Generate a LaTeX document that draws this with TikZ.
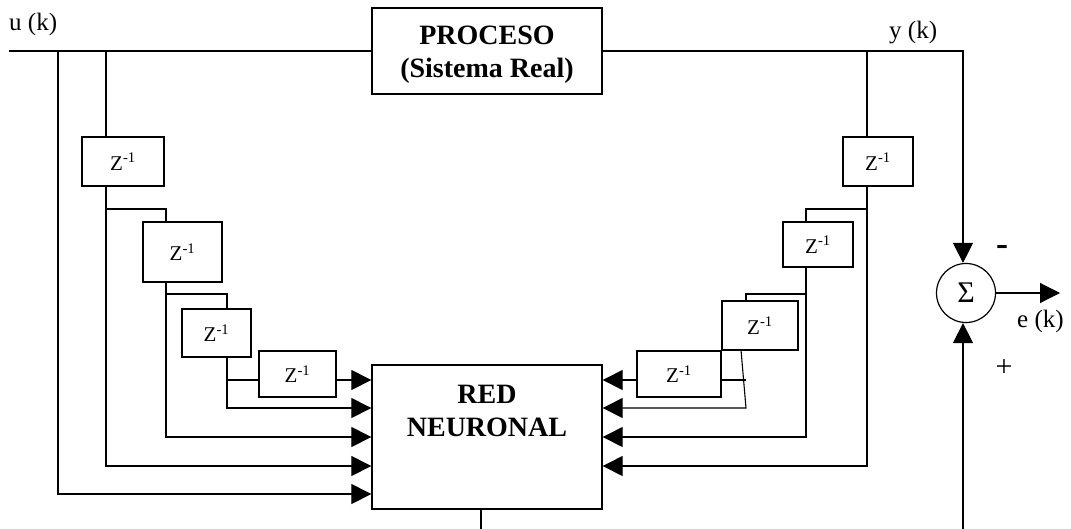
\documentclass[tikz,border=0pt]{standalone}
\usepackage{fontspec}
\setmainfont{Liberation Serif}
\usepackage{tikz}
\usetikzlibrary{arrows.meta,positioning}
\tikzset{
  plant-box/.style={draw=black, line width=1.3pt, inner sep=0pt},
  delay-box/.style={draw=black, line width=1.2pt, inner sep=0pt,
    font=\fontsize{21}{24}\selectfont},
  sum-node/.style={draw=black, circle, line width=1.2pt, inner sep=0pt,
    minimum size=59pt, font=\fontsize{30}{32}\selectfont},
  title-text/.style={align=center, inner sep=0pt, font=\bfseries\fontsize{28}{33}\selectfont},
  sig-label/.style={inner sep=0pt, font=\fontsize{25}{29}\selectfont},
  wire/.style={line width=1.1pt},
  flow-arrow/.style={wire, -{Triangle[length=20pt,width=20pt]}}
}

\begin{document}
\begin{tikzpicture}[x=1pt, y=-1pt]
  \useasboundingbox (0,0) rectangle (1071,528);

  % Plant and network blocks
  \node[plant-box, minimum width=230pt, minimum height=86pt] (proceso) at (487,51) {};
  \node[title-text] (procesotxt) at ([yshift=-4pt]proceso.center) {PROCESO\\(Sistema Real)};
  \node[plant-box, minimum width=230pt, minimum height=144pt] (red) at (487,437) {};
  \node[title-text, below=21pt of red.north] (redtxt) {RED\\NEURONAL};

  % Delay chain on u (k)
  \node[delay-box, minimum width=82pt, minimum height=49pt] (zu1) at (123,161.5) {Z\textsuperscript{-1}};
  \node[delay-box, minimum width=79pt, minimum height=60pt] (zu2) at (182.5,252) {Z\textsuperscript{-1}};
  \node[delay-box, minimum width=69pt, minimum height=48pt] (zu3) at (216.5,333) {Z\textsuperscript{-1}};
  \node[delay-box, minimum width=77pt, minimum height=46pt] (zu4) at (297.5,374) {Z\textsuperscript{-1}};

  % Delay chain on y (k)
  \node[delay-box, minimum width=70pt, minimum height=49pt] (zy1) at (878,161.5) {Z\textsuperscript{-1}};
  \node[delay-box, minimum width=70pt, minimum height=45pt] (zy2) at (818,244.5) {Z\textsuperscript{-1}};
  \node[delay-box, minimum width=76pt, minimum height=49pt] (zy3) at (760,325.5) {Z\textsuperscript{-1}};
  \node[delay-box, minimum width=84pt, minimum height=46pt] (zy4) at (679,374) {Z\textsuperscript{-1}};

  % Error summation
  \node[sum-node] (sum) at (966,293) {Σ};

  % Signal labels
  \node[sig-label, anchor=base west] (ulabel) at (9,30) {u (k)};
  \node[sig-label, anchor=base west] (ylabel) at (889,38) {y (k)};
  \node[sig-label, anchor=base west] (elabel) at (1017,327) {e (k)};
  \node[inner sep=0pt, font=\bfseries\fontsize{36}{36}\selectfont] (minus) at (1002,250) {-};
  \node[inner sep=0pt, font=\fontsize{30}{30}\selectfont] (plus) at (1004,368) {+};

  % Input ports of the network
  \foreach \k/\dy in {1/57,2/29,3/0,4/-29,5/-57} {
    \coordinate (l\k) at ([yshift=\dy pt]red.west);
    \coordinate (r\k) at ([yshift=\dy pt]red.east);
  }

  % Branch points
  \coordinate (uin) at (9,51);
  \coordinate (ua) at (58,51);
  \coordinate (ub) at (106,51);
  \coordinate (uc) at (166,209);
  \coordinate (ud) at (227,294);
  \coordinate (yc) at (963,51);
  \coordinate (ya) at (867,51);
  \coordinate (yb) at (806,209);
  \coordinate (ye) at (746,294);
  \coordinate (yf) at (741,350);
  \coordinate (fb) at (481,600);
  \coordinate (eout) at (1060,293);

  % u (k) side
  \draw[wire] (uin) -- (proceso.west);
  \draw[flow-arrow] (ua) |- (l5);
  \draw[wire] (ub) -- (ub |- zu1.north);
  \draw[flow-arrow] (zu1.south -| ub) |- (l4);
  \draw[wire] (ub |- uc) -- (uc) -- (uc |- zu2.north);
  \draw[flow-arrow] (zu2.south -| uc) |- (l3);
  \draw[wire] (uc |- ud) -- (ud) -- (ud |- zu3.north);
  \draw[flow-arrow] (zu3.south -| ud) |- (l2);
  \draw[wire] (ud |- l1) -- (zu4.west |- l1);
  \draw[flow-arrow] (zu4.east |- l1) -- (l1);

  % y (k) side
  \draw[flow-arrow] (proceso.east) -- (yc) -- (yc |- sum.north);
  \draw[wire] (ya) -- (ya |- zy1.north);
  \draw[flow-arrow] (zy1.south -| ya) |- (r4);
  \draw[wire] (ya |- yb) -- (yb) -- (yb |- zy2.north);
  \draw[flow-arrow] (zy2.south -| yb) |- (r3);
  \draw[wire] (yb |- ye) -- (ye) -- (ye |- zy3.north);
  \draw[flow-arrow] (yf) -- (ye |- r2) -- (r2);
  \draw[wire] (zy4.east |- r1) -- (ye |- r1);
  \draw[flow-arrow] (zy4.west |- r1) -- (r1);

  % Network output back to the summation
  \draw[flow-arrow] (red.south -| fb) -- (fb) -| (yc |- sum.south);
  \draw[flow-arrow] (sum.east) -- (eout);
\end{tikzpicture}
\end{document}
